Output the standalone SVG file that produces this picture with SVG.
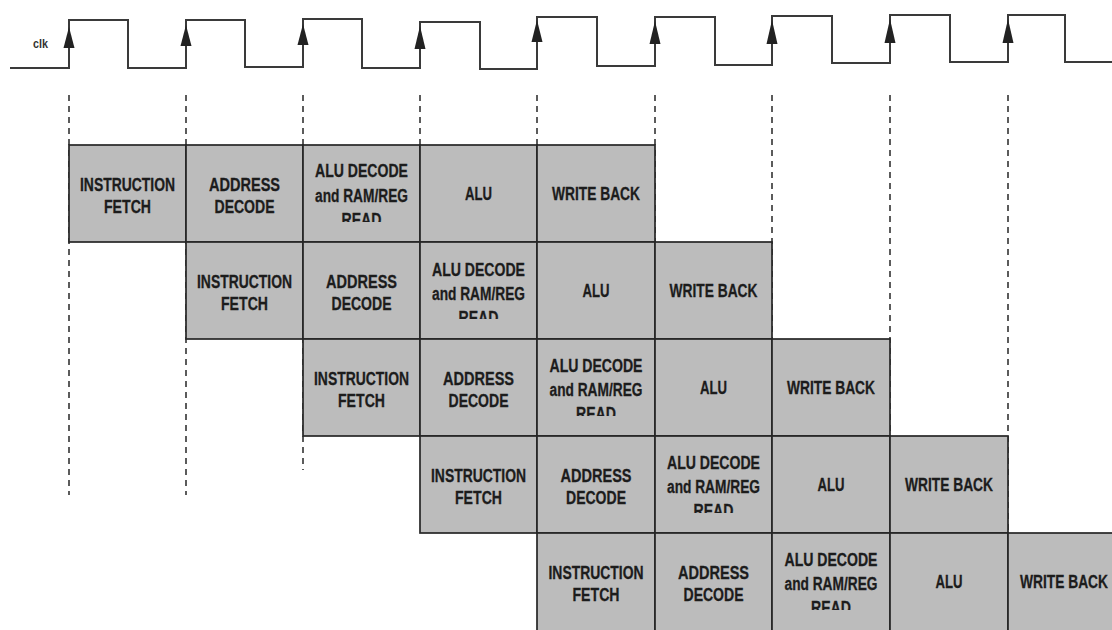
<svg xmlns="http://www.w3.org/2000/svg" width="1112" height="630" viewBox="0 0 1112 630">
<style>
.cell{fill:#bcbcbc;stroke:#262626;stroke-width:1.7}
.t{font-family:"Liberation Sans",Arial,sans-serif;font-weight:bold;font-size:18px;fill:#1c1c1c;stroke:#1c1c1c;stroke-width:0.3;text-anchor:middle}
.clk{fill:none;stroke:#3a3a3a;stroke-width:2}
.arr{fill:#222}
.dash{stroke:#333;stroke-width:1.6;stroke-dasharray:6 5;fill:none}
.lbl{font-family:"Liberation Sans",Arial,sans-serif;font-weight:bold;font-size:13px;fill:#333}
</style>
<defs>
<clipPath id="readclip" clipPathUnits="userSpaceOnUse"><rect x="-5" y="0" width="130" height="77"/></clipPath>
</defs>
<rect width="1112" height="630" fill="#fff"/>

<g id="clock">
<text class="lbl" x="33" y="48" textLength="15" lengthAdjust="spacingAndGlyphs">clk</text>
<path class="clk" d="M10 68 H69 V20 H128 V68 H186 V20 H245 V67 H303 V19 H362 V68 H420 V22 H480 V69 H537 V17 H597 V66 H655 V17 H715 V65 H772 V16 H832 V63 H890 V15 H950 V62 H1008 V15 H1065 V62 H1112"/>
<polygon class="arr" points="69,27 63.5,48 74.5,48"/>
<polygon class="arr" points="186,25 180.5,46 191.5,46"/>
<polygon class="arr" points="303,24 297.5,45 308.5,45"/>
<polygon class="arr" points="420,26 414.5,49 425.5,49"/>
<polygon class="arr" points="537,20 531.5,42 542.5,42"/>
<polygon class="arr" points="655,21 649.5,44 660.5,44"/>
<polygon class="arr" points="772,20 766.5,44 777.5,44"/>
<polygon class="arr" points="890,19 884.5,43 895.5,43"/>
<polygon class="arr" points="1008,19 1002.5,43 1013.5,43"/>
</g>

<g id="connectors">
<line class="dash" x1="69" y1="95" x2="69" y2="495"/>
<line class="dash" x1="186" y1="95" x2="186" y2="495"/>
<line class="dash" x1="303" y1="95" x2="303" y2="470"/>
<line class="dash" x1="420" y1="95" x2="420" y2="145"/>
<line class="dash" x1="537" y1="95" x2="537" y2="145"/>
<line class="dash" x1="655" y1="95" x2="655" y2="242"/>
<line class="dash" x1="772" y1="95" x2="772" y2="339"/>
<line class="dash" x1="890" y1="95" x2="890" y2="436"/>
<line class="dash" x1="1008" y1="95" x2="1008" y2="533"/>
</g>

<!-- Row 1 -->
<g id="r1-fetch" transform="translate(69,145)"><rect class="cell" width="117" height="97"/>
<text class="t" x="58.5" y="46" textLength="95" lengthAdjust="spacingAndGlyphs">INSTRUCTION</text>
<text class="t" x="58.5" y="68" textLength="47" lengthAdjust="spacingAndGlyphs">FETCH</text></g>
<g id="r1-decode" transform="translate(186,145)"><rect class="cell" width="117" height="97"/>
<text class="t" x="58.5" y="46" textLength="71" lengthAdjust="spacingAndGlyphs">ADDRESS</text>
<text class="t" x="58.5" y="68" textLength="60" lengthAdjust="spacingAndGlyphs">DECODE</text></g>
<g id="r1-aludec" transform="translate(303,145)"><rect class="cell" width="117" height="97"/>
<g clip-path="url(#readclip)">
<text class="t" x="58.5" y="32" textLength="93" lengthAdjust="spacingAndGlyphs">ALU DECODE</text>
<text class="t" x="58.5" y="57" textLength="93" lengthAdjust="spacingAndGlyphs">and RAM/REG</text>
<text class="t" x="58.5" y="81" textLength="40" lengthAdjust="spacingAndGlyphs">READ</text></g></g>
<g id="r1-alu" transform="translate(420,145)"><rect class="cell" width="117" height="97"/>
<text class="t" x="58.5" y="55" textLength="27" lengthAdjust="spacingAndGlyphs">ALU</text></g>
<g id="r1-wb" transform="translate(537,145)"><rect class="cell" width="118" height="97"/>
<text class="t" x="59" y="55" textLength="88" lengthAdjust="spacingAndGlyphs">WRITE BACK</text></g>

<!-- Row 2 -->
<g id="r2-fetch" transform="translate(186,242)"><rect class="cell" width="117" height="97"/>
<text class="t" x="58.5" y="46" textLength="95" lengthAdjust="spacingAndGlyphs">INSTRUCTION</text>
<text class="t" x="58.5" y="68" textLength="47" lengthAdjust="spacingAndGlyphs">FETCH</text></g>
<g id="r2-decode" transform="translate(303,242)"><rect class="cell" width="117" height="97"/>
<text class="t" x="58.5" y="46" textLength="71" lengthAdjust="spacingAndGlyphs">ADDRESS</text>
<text class="t" x="58.5" y="68" textLength="60" lengthAdjust="spacingAndGlyphs">DECODE</text></g>
<g id="r2-aludec" transform="translate(420,242)"><rect class="cell" width="117" height="97"/>
<g clip-path="url(#readclip)">
<text class="t" x="58.5" y="34" textLength="93" lengthAdjust="spacingAndGlyphs">ALU DECODE</text>
<text class="t" x="58.5" y="58" textLength="93" lengthAdjust="spacingAndGlyphs">and RAM/REG</text>
<text class="t" x="58.5" y="82" textLength="40" lengthAdjust="spacingAndGlyphs">READ</text></g></g>
<g id="r2-alu" transform="translate(537,242)"><rect class="cell" width="118" height="97"/>
<text class="t" x="59" y="55" textLength="27" lengthAdjust="spacingAndGlyphs">ALU</text></g>
<g id="r2-wb" transform="translate(655,242)"><rect class="cell" width="117" height="97"/>
<text class="t" x="58.5" y="55" textLength="88" lengthAdjust="spacingAndGlyphs">WRITE BACK</text></g>

<!-- Row 3 -->
<g id="r3-fetch" transform="translate(303,339)"><rect class="cell" width="117" height="97"/>
<text class="t" x="58.5" y="46" textLength="95" lengthAdjust="spacingAndGlyphs">INSTRUCTION</text>
<text class="t" x="58.5" y="68" textLength="47" lengthAdjust="spacingAndGlyphs">FETCH</text></g>
<g id="r3-decode" transform="translate(420,339)"><rect class="cell" width="117" height="97"/>
<text class="t" x="58.5" y="46" textLength="71" lengthAdjust="spacingAndGlyphs">ADDRESS</text>
<text class="t" x="58.5" y="68" textLength="60" lengthAdjust="spacingAndGlyphs">DECODE</text></g>
<g id="r3-aludec" transform="translate(537,339)"><rect class="cell" width="118" height="97"/>
<g clip-path="url(#readclip)">
<text class="t" x="59" y="33" textLength="93" lengthAdjust="spacingAndGlyphs">ALU DECODE</text>
<text class="t" x="59" y="57" textLength="93" lengthAdjust="spacingAndGlyphs">and RAM/REG</text>
<text class="t" x="59" y="81" textLength="40" lengthAdjust="spacingAndGlyphs">READ</text></g></g>
<g id="r3-alu" transform="translate(655,339)"><rect class="cell" width="117" height="97"/>
<text class="t" x="58.5" y="55" textLength="27" lengthAdjust="spacingAndGlyphs">ALU</text></g>
<g id="r3-wb" transform="translate(772,339)"><rect class="cell" width="118" height="97"/>
<text class="t" x="59" y="55" textLength="88" lengthAdjust="spacingAndGlyphs">WRITE BACK</text></g>

<!-- Row 4 -->
<g id="r4-fetch" transform="translate(420,436)"><rect class="cell" width="117" height="97"/>
<text class="t" x="58.5" y="46" textLength="95" lengthAdjust="spacingAndGlyphs">INSTRUCTION</text>
<text class="t" x="58.5" y="68" textLength="47" lengthAdjust="spacingAndGlyphs">FETCH</text></g>
<g id="r4-decode" transform="translate(537,436)"><rect class="cell" width="118" height="97"/>
<text class="t" x="59" y="46" textLength="71" lengthAdjust="spacingAndGlyphs">ADDRESS</text>
<text class="t" x="59" y="68" textLength="60" lengthAdjust="spacingAndGlyphs">DECODE</text></g>
<g id="r4-aludec" transform="translate(655,436)"><rect class="cell" width="117" height="97"/>
<g clip-path="url(#readclip)">
<text class="t" x="58.5" y="33" textLength="93" lengthAdjust="spacingAndGlyphs">ALU DECODE</text>
<text class="t" x="58.5" y="57" textLength="93" lengthAdjust="spacingAndGlyphs">and RAM/REG</text>
<text class="t" x="58.5" y="81" textLength="40" lengthAdjust="spacingAndGlyphs">READ</text></g></g>
<g id="r4-alu" transform="translate(772,436)"><rect class="cell" width="118" height="97"/>
<text class="t" x="59" y="55" textLength="27" lengthAdjust="spacingAndGlyphs">ALU</text></g>
<g id="r4-wb" transform="translate(890,436)"><rect class="cell" width="118" height="97"/>
<text class="t" x="59" y="55" textLength="88" lengthAdjust="spacingAndGlyphs">WRITE BACK</text></g>

<!-- Row 5 -->
<g id="r5-fetch" transform="translate(537,533)"><rect class="cell" width="118" height="100"/>
<text class="t" x="59" y="46" textLength="95" lengthAdjust="spacingAndGlyphs">INSTRUCTION</text>
<text class="t" x="59" y="68" textLength="47" lengthAdjust="spacingAndGlyphs">FETCH</text></g>
<g id="r5-decode" transform="translate(655,533)"><rect class="cell" width="117" height="100"/>
<text class="t" x="58.5" y="46" textLength="71" lengthAdjust="spacingAndGlyphs">ADDRESS</text>
<text class="t" x="58.5" y="68" textLength="60" lengthAdjust="spacingAndGlyphs">DECODE</text></g>
<g id="r5-aludec" transform="translate(772,533)"><rect class="cell" width="118" height="100"/>
<g clip-path="url(#readclip)">
<text class="t" x="59" y="33" textLength="93" lengthAdjust="spacingAndGlyphs">ALU DECODE</text>
<text class="t" x="59" y="57" textLength="93" lengthAdjust="spacingAndGlyphs">and RAM/REG</text>
<text class="t" x="59" y="81" textLength="40" lengthAdjust="spacingAndGlyphs">READ</text></g></g>
<g id="r5-alu" transform="translate(890,533)"><rect class="cell" width="118" height="100"/>
<text class="t" x="59" y="55" textLength="27" lengthAdjust="spacingAndGlyphs">ALU</text></g>
<g id="r5-wb" transform="translate(1008,533)"><rect class="cell" width="118" height="100"/>
<text class="t" x="56" y="55" textLength="88" lengthAdjust="spacingAndGlyphs">WRITE BACK</text></g>
</svg>
